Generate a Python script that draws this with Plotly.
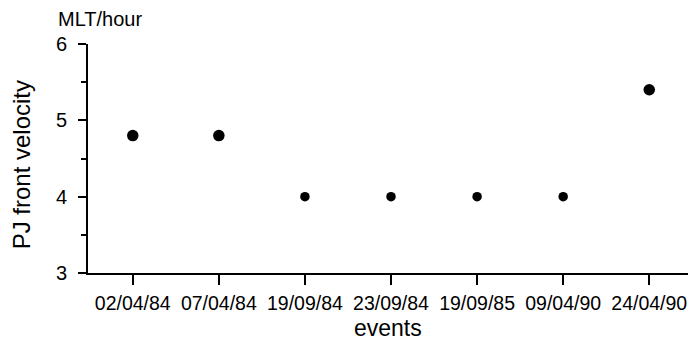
import plotly.graph_objects as go

events = ["02/04/84", "07/04/84", "19/09/84", "23/09/84", "19/09/85", "09/04/90", "24/04/90"]
velocity = [4.8, 4.8, 4.0, 4.0, 4.0, 4.0, 5.4]
y_ticks = [3, 4, 5, 6]

font = "Liberation Sans, Arial, sans-serif"

fig = go.Figure()
fig.add_trace(go.Scatter(
    x=list(range(len(events))), y=velocity, mode="markers",
    marker=dict(color="#000000", opacity=1, size=[11.5, 11.5, 9.5, 9.5, 9.5, 9.5, 11.5],
                symbol="circle", line=dict(width=0)),
    opacity=1, showlegend=False, cliponaxis=False,
))

fig.update_layout(
    width=690, height=341,
    margin=dict(l=88, r=2, t=44, b=68, autoexpand=False),
    paper_bgcolor="white", plot_bgcolor="white",
    font=dict(family=font, color="black"),
)
fig.update_xaxes(
    range=[-0.52, 6.45], tickmode="array", tickvals=list(range(len(events))), ticktext=events,
    showgrid=False, zeroline=False, showline=True, linecolor="black", linewidth=2,
    ticks="outside", ticklen=10, tickwidth=2, tickcolor="black", automargin=False,
    tickfont=dict(size=19.5, family=font, color="black"), ticklabelstandoff=2,
)
fig.update_yaxes(
    range=[3, 6], tickvals=y_ticks, automargin=False,
    showgrid=False, zeroline=False, showline=True, linecolor="black", linewidth=2,
    ticks="outside", ticklen=8, tickwidth=2, tickcolor="black",
    minor=dict(dtick=0.5, tick0=3, ticks="outside", ticklen=5, tickwidth=2, tickcolor="black"),
    tickfont=dict(size=20, family=font, color="black"), ticklabelstandoff=7,
)
fig.add_annotation(text="MLT/hour", xref="paper", yref="paper", x=(56 - 88) / 600, y=1 + 25 / 229,
                   xanchor="left", yanchor="middle", showarrow=False,
                   font=dict(size=20, family=font, color="black"))
fig.add_annotation(text="PJ front velocity", xref="paper", yref="paper", x=(21 - 88) / 600, y=0.47,
                   xanchor="center", yanchor="middle", textangle=-90, showarrow=False,
                   font=dict(size=24, family=font, color="black"))
fig.add_annotation(text="events", xref="paper", yref="paper", x=0.5, y=(273 - 328) / 229,
                   xanchor="center", yanchor="middle", showarrow=False,
                   font=dict(size=23, family=font, color="black"))

fig.write_html("out.html", config={"displayModeBar": False},
               post_script="document.body.style.margin='0';document.body.style.overflow='hidden';")
